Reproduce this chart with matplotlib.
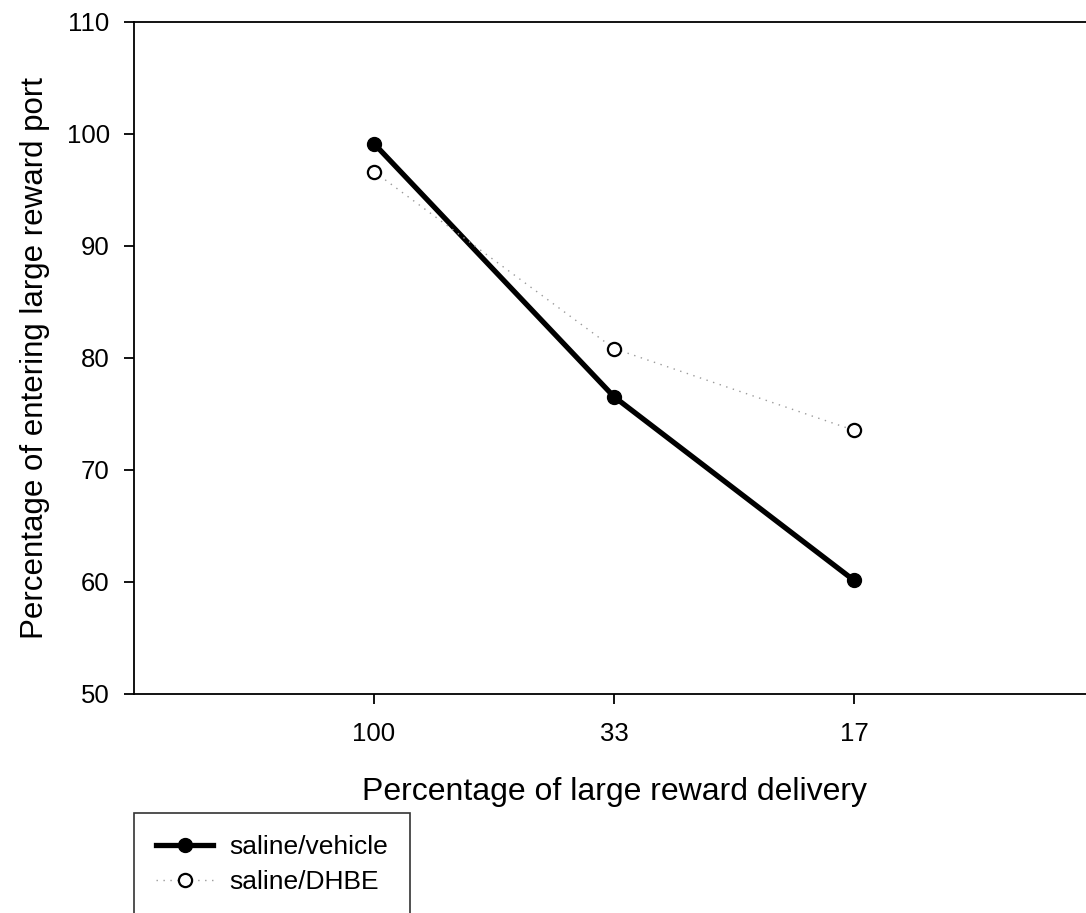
import matplotlib
matplotlib.use("Agg")
import matplotlib.pyplot as plt

# ---------------------------------------------------------------- data
delivery = ["100", "33", "17"]
vehicle = [99.1, 76.5, 60.1]
dhbe = [96.6, 80.8, 73.5]

plt.rcParams["font.family"] = ["Liberation Sans", "DejaVu Sans"]

fig = plt.figure(figsize=(10.86, 9.13), dpi=100)
# axes run past the right edge of the picture, as in the original
ax = fig.add_axes([134 / 1086, 1 - 693.5 / 913, 960 / 1086, 672 / 913])

xs = list(range(len(delivery)))
ax.plot(xs, vehicle, color="black", lw=3.8, marker="o", ms=10,
        mfc="black", mec="black", label="saline/vehicle", zorder=3)
ax.plot(xs, dhbe, color="#9a9a9a", lw=1.0, ls=(0, (1, 4)), marker="o",
        ms=9.5, mfc="white", mec="black", mew=1.6, label="saline/DHBE",
        zorder=4)

ax.set_xlim(-1, 3)
ax.set_ylim(50, 110)
ax.set_xticks(xs)
ax.set_xticklabels(delivery)
ax.set_yticks(range(50, 111, 10))
ax.spines["right"].set_visible(False)
for s in ax.spines.values():
    s.set_linewidth(1.3)
ax.tick_params(direction="out", length=7.5, width=1.3, labelsize=18.5)
ax.tick_params(axis="y", pad=10)
ax.tick_params(axis="x", pad=13)

ax.set_xlabel("Percentage of large reward delivery", fontsize=23,
              labelpad=22)
ax.set_ylabel("Percentage of entering large reward port", fontsize=22.5,
              labelpad=12)

# legend box runs off the bottom of the picture, as in the original
leg = fig.legend(loc="upper left",
                 bbox_to_anchor=(134 / 1086, 1 - 813 / 913),
                 fontsize=19, frameon=True, fancybox=False,
                 edgecolor="black", handlelength=2.15, handletextpad=0.6,
                 borderpad=0.85, labelspacing=0.4, borderaxespad=0)
leg.get_frame().set_linewidth(1.2)

fig.savefig("out.png", dpi=100)
